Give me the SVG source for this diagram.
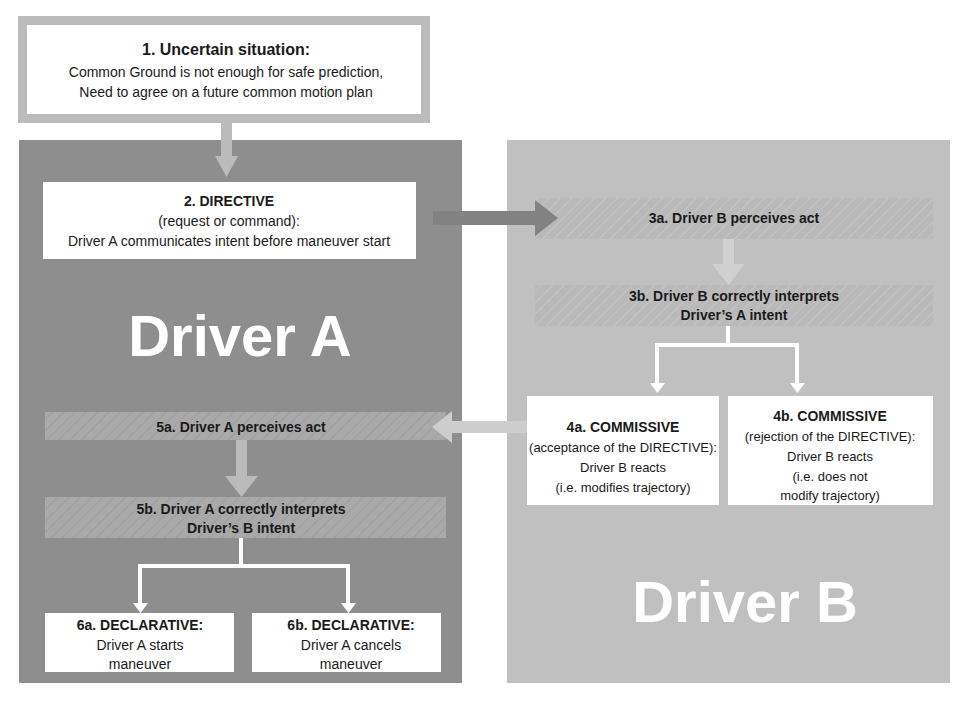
<svg xmlns="http://www.w3.org/2000/svg" width="971" height="707" viewBox="0 0 971 707">
<style>
text{font-family:"Liberation Sans",Arial,sans-serif;font-size:14px;fill:#1a1a1a;text-anchor:middle}
.b{font-weight:bold}
.s{font-size:13px}
.big{font-size:58px;font-weight:bold;fill:#fff}
</style>
<defs>
<pattern id="hA" width="8" height="8" patternUnits="userSpaceOnUse" patternTransform="rotate(45)">
<rect width="8" height="8" fill="#a9a9a9"/><line x1="0" y1="0" x2="0" y2="8" stroke="#9a9a9a" stroke-width="1.5"/></pattern>
<pattern id="hB" width="8" height="8" patternUnits="userSpaceOnUse" patternTransform="rotate(45)">
<rect width="8" height="8" fill="#b9b9b9"/><line x1="0" y1="0" x2="0" y2="8" stroke="#c9c9c9" stroke-width="1.5"/></pattern>
</defs>
<rect width="971" height="707" fill="#fff"/>
<g id="panelA"><rect x="19" y="140" width="443" height="543" fill="#8e8e8e"/><text x="240" y="356" class="big">Driver A</text></g>
<g id="panelB"><rect x="507" y="140" width="443" height="543" fill="#c0c0c0"/><text x="745" y="622" class="big">Driver B</text></g>
<g id="n1"><rect x="22.5" y="20.5" width="403" height="98" fill="#fff" stroke="#bbb" stroke-width="9"/>
<text x="226" y="55" class="b" style="font-size:16px">1. Uncertain situation:</text>
<text x="226" y="77">Common Ground is not enough for safe prediction,</text>
<text x="226" y="97">Need to agree on a future common motion plan</text></g>
<g id="n2"><rect x="43" y="182" width="373" height="77" fill="#fff"/>
<text x="229" y="206" class="b">2. DIRECTIVE</text>
<text x="229" y="226">(request or command):</text>
<text x="229" y="246">Driver A communicates intent before maneuver start</text></g>
<g id="n3a"><rect x="535" y="198" width="398" height="41" fill="url(#hB)"/>
<text x="734" y="223" class="b">3a. Driver B perceives act</text></g>
<g id="n3b"><rect x="535" y="285" width="398" height="41" fill="url(#hB)"/>
<text x="734" y="301" class="b">3b. Driver B correctly interprets</text>
<text x="734" y="320" class="b">Driver’s A intent</text></g>
<g id="n4a"><rect x="527" y="396" width="192" height="109" fill="#fff"/>
<text x="623" y="432" class="b">4a. COMMISSIVE</text>
<text x="623" y="452" class="s">(acceptance of the DIRECTIVE):</text>
<text x="623" y="472" class="s">Driver B reacts</text>
<text x="623" y="492" class="s">(i.e. modifies trajectory)</text></g>
<g id="n4b"><rect x="728" y="396" width="205" height="109" fill="#fff"/>
<text x="830" y="421" class="b">4b. COMMISSIVE</text>
<text x="830" y="441" class="s">(rejection of the DIRECTIVE):</text>
<text x="830" y="461" class="s">Driver B reacts</text>
<text x="830" y="481" class="s">(i.e. does not</text>
<text x="830" y="500" class="s">modify trajectory)</text></g>
<g id="n5a"><rect x="45" y="412" width="401" height="28" fill="url(#hA)"/>
<text x="241" y="432" class="b">5a. Driver A perceives act</text></g>
<g id="n5b"><rect x="45" y="497" width="401" height="41" fill="url(#hA)"/>
<text x="241" y="514" class="b">5b. Driver A correctly interprets</text>
<text x="241" y="533" class="b">Driver’s B intent</text></g>
<g id="n6a"><rect x="45" y="613" width="189" height="59" fill="#fff"/>
<text x="140" y="630" class="b">6a. DECLARATIVE:</text>
<text x="140" y="650">Driver A starts</text>
<text x="140" y="669">maneuver</text></g>
<g id="n6b"><rect x="252" y="613" width="189" height="59" fill="#fff"/>
<text x="351" y="630" class="b">6b. DECLARATIVE:</text>
<text x="351" y="650">Driver A cancels</text>
<text x="351" y="669">maneuver</text></g>
<g id="connectors">
<path d="M221 123H232V156H238L226.5 177L215 156H221Z" fill="#bbb"/>
<path d="M433 211H535V200L558 218L535 236V225H433Z" fill="#828282"/>
<path d="M723 239H734V264H745L728.5 285L712 264H723Z" fill="#d0d0d0"/>
<path d="M236 440H247V476H258L241.5 497L225 476H236Z" fill="#bbb"/>
<path d="M527 421H452V411L432 427L452 443V433H527Z" fill="#cdcdcd"/>
<g fill="none" stroke="#fff" stroke-width="4">
<path d="M728 326V345M657 345H797M657 343V385M797 343V385"/>
<path d="M241 538V566M140 566H348M140 564V605M348 564V605"/>
</g>
<g fill="#fff">
<path d="M650 383L657.5 393L665 383Z"/><path d="M790 383L797.5 393L805 383Z"/>
<path d="M133 603L140.5 613L148 603Z"/><path d="M341 603L348.5 613L356 603Z"/>
</g>
</g>
</svg>
